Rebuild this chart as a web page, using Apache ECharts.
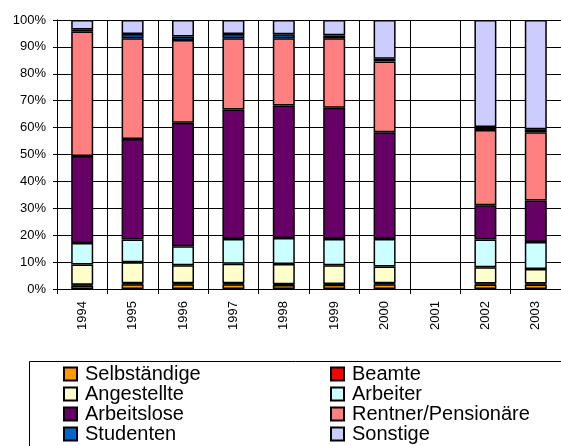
<!DOCTYPE html>
<html>
<head>
<meta charset="utf-8">
<script src="https://cdn.jsdelivr.net/npm/echarts@6/dist/echarts.min.js"></script>
<style>
    html, body { margin: 0; padding: 0; background: #fff; }
    #chart { width: 561px; height: 446px; }
</style>
</head>
<body>
<div id="chart"></div>
<script>
// Jahre
var years = ['1994', '1995', '1996', '1997', '1998', '1999', '2000', '2001', '2002', '2003'];
var yTicks = [0, 10, 20, 30, 40, 50, 60, 70, 80, 90, 100];

// Anteile in Prozent je Gruppe (2001 ohne Daten)
var selbstaendige = [1.3, 1.8, 1.8, 1.8, 1.5, 1.6, 1.8, null, 1.7, 1.7];
var beamte = [0.3, 0.3, 0.3, 0.3, 0.3, 0.3, 0.3, null, 0.3, 0.3];
var angestellte = [7.5, 7.8, 6.7, 7.3, 7.5, 6.9, 6.3, null, 6.1, 5.4];
var arbeiter = [8.0, 8.5, 7.1, 9.2, 9.7, 9.8, 10.2, null, 10.3, 10.1];
var arbeitslose = [32.3, 37.4, 45.9, 48.1, 49.2, 48.8, 39.7, null, 12.7, 15.4];
var rentner = [46.3, 37.4, 30.8, 26.5, 25.0, 25.8, 26.3, null, 28.0, 25.4];
var studenten = [0.8, 1.6, 1.3, 1.6, 1.5, 1.1, 1.0, null, 1.1, 1.1];
var sonstige = [3.5, 5.2, 6.1, 5.2, 5.3, 5.7, 14.4, null, 39.8, 40.6];

var groups = [
    {name: 'Selbständige', data: selbstaendige, color: '#FF9900'},
    {name: 'Beamte', data: beamte, color: '#FF0000'},
    {name: 'Angestellte', data: angestellte, color: '#FFFFCC'},
    {name: 'Arbeiter', data: arbeiter, color: '#CCFFFF'},
    {name: 'Arbeitslose', data: arbeitslose, color: '#660066'},
    {name: 'Rentner/Pensionäre', data: rentner, color: '#FF8080'},
    {name: 'Studenten', data: studenten, color: '#0066CC'},
    {name: 'Sonstige', data: sonstige, color: '#CCCCFF'}
];

var font = "'Liberation Sans', Arial, sans-serif";

var chart = echarts.init(document.getElementById('chart'), null, {renderer: 'canvas'});

var series = groups.map(function (g) {
    return {
        name: g.name,
        type: 'bar',
        stack: 'total',
        barWidth: 22,
        data: g.data,
        itemStyle: {color: g.color, borderColor: '#000', borderWidth: 1.5},
        emphasis: {disabled: true}
    };
});

// zwei Legendenspalten wie im Original
function legendBox(left, names) {
    return {
        orient: 'vertical',
        left: left,
        top: 364,
        height: 200,
        padding: 0,
        itemWidth: 13,
        itemHeight: 13,
        itemGap: 0,
        icon: 'rect',
        selectedMode: false,
        data: names,
        itemStyle: {borderColor: '#000', borderWidth: 2},
        textStyle: {fontFamily: font, fontSize: 20, color: '#000', lineHeight: 20, padding: [0, 0, 0, 3]}
    };
}

chart.setOption({
    animation: false,
    backgroundColor: '#fff',
    grid: {left: 57, right: 0, top: 20, bottom: 157, containLabel: false},
    legend: [
        legendBox(63, ['Selbständige', 'Angestellte', 'Arbeitslose', 'Studenten']),
        legendBox(330, ['Beamte', 'Arbeiter', 'Rentner/Pensionäre', 'Sonstige'])
    ],
    graphic: [{
        type: 'rect',
        z: -1,
        shape: {x: 29.5, y: 361.5, width: 560, height: 120},
        style: {fill: 'none', stroke: '#000', lineWidth: 1}
    }],
    xAxis: {
        type: 'category',
        data: years,
        axisLine: {lineStyle: {color: '#000', width: 1}},
        axisTick: {show: true, length: 5, lineStyle: {color: '#000'}},
        splitLine: {show: true, lineStyle: {color: '#000', width: 1}},
        axisLabel: {rotate: 90, margin: 12, fontFamily: font, fontSize: 13, color: '#000'}
    },
    yAxis: {
        type: 'value',
        min: yTicks[0],
        max: yTicks[yTicks.length - 1],
        interval: yTicks[1] - yTicks[0],
        axisLine: {show: true, lineStyle: {color: '#000', width: 1}},
        axisTick: {show: true, length: 4, lineStyle: {color: '#000'}},
        splitLine: {show: true, lineStyle: {color: '#000', width: 1}},
        axisLabel: {formatter: '{value}%', margin: 11, fontFamily: font, fontSize: 13, color: '#000'}
    },
    series: series
});
</script>
</body>
</html>
